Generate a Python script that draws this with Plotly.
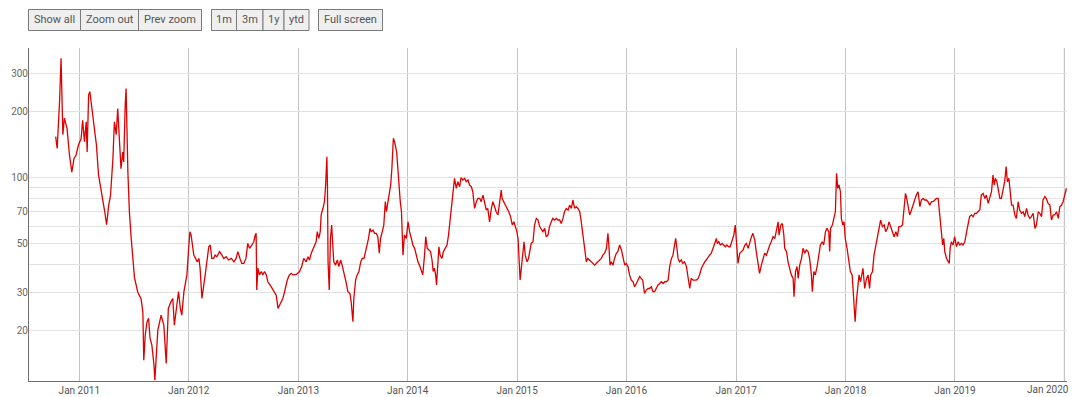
import plotly.graph_objects as go

# ---------------- data ----------------
dates = [
    "2010-10-14","2010-10-19","2010-10-27","2010-11-01","2010-11-07","2010-11-12","2010-11-21","2010-11-29",
    "2010-12-07","2010-12-14","2010-12-21","2010-12-29","2011-01-07","2011-01-12","2011-01-18","2011-01-24",
    "2011-01-27","2011-02-01","2011-02-05","2011-02-11","2011-02-20","2011-02-27","2011-03-06","2011-03-12",
    "2011-03-20","2011-03-26","2011-04-02","2011-04-09","2011-04-15","2011-04-23","2011-04-28","2011-05-04",
    "2011-05-09","2011-05-15","2011-05-20","2011-05-26","2011-05-29","2011-06-03","2011-06-06","2011-06-12",
    "2011-06-17","2011-06-23","2011-06-28","2011-07-04","2011-07-15","2011-07-26","2011-08-01","2011-08-04",
    "2011-08-09","2011-08-15","2011-08-20","2011-08-25","2011-08-31","2011-09-07","2011-09-10","2011-09-14",
    "2011-09-20","2011-10-01","2011-10-10","2011-10-18","2011-10-25","2011-11-03","2011-11-09","2011-11-14",
    "2011-11-20","2011-11-28","2011-12-04","2011-12-09","2011-12-16","2011-12-20","2011-12-26","2011-12-31",
    "2012-01-05","2012-01-09","2012-01-14","2012-01-18","2012-01-24","2012-01-29","2012-02-04","2012-02-08",
    "2012-02-14","2012-02-19","2012-02-25","2012-03-03","2012-03-08","2012-03-13","2012-03-18","2012-03-24",
    "2012-03-29","2012-04-04","2012-04-13","2012-04-21","2012-04-27","2012-05-05","2012-05-13","2012-05-22",
    "2012-05-31","2012-06-07","2012-06-13","2012-06-20","2012-06-26","2012-07-03","2012-07-10","2012-07-16",
    "2012-07-22","2012-07-30","2012-08-05","2012-08-10","2012-08-13","2012-08-15","2012-08-19","2012-08-24",
    "2012-08-30","2012-09-04","2012-09-10","2012-09-16","2012-09-21","2012-10-02","2012-10-11","2012-10-19",
    "2012-10-25","2012-11-02","2012-11-10","2012-11-16","2012-11-25","2012-12-02","2012-12-08","2012-12-14",
    "2012-12-25","2013-01-05","2013-01-12","2013-01-19","2013-01-27","2013-02-02","2013-02-07","2013-02-13",
    "2013-02-18","2013-02-24","2013-03-01","2013-03-05","2013-03-10","2013-03-15","2013-03-18","2013-03-24",
    "2013-03-29","2013-04-02","2013-04-06","2013-04-08","2013-04-10","2013-04-14","2013-04-18","2013-04-22",
    "2013-04-25","2013-04-29","2013-05-05","2013-05-11","2013-05-16","2013-05-22","2013-05-27","2013-06-04",
    "2013-06-10","2013-06-15","2013-06-22","2013-06-26","2013-07-02","2013-07-05","2013-07-11","2013-07-16",
    "2013-07-22","2013-07-28","2013-08-02","2013-08-08","2013-08-13","2013-08-19","2013-08-23","2013-08-28",
    "2013-09-01","2013-09-07","2013-09-12","2013-09-18","2013-09-23","2013-09-28","2013-10-02","2013-10-08",
    "2013-10-13","2013-10-18","2013-10-22","2013-10-27","2013-10-31","2013-11-05","2013-11-09","2013-11-14",
    "2013-11-18","2013-11-21","2013-11-25","2013-11-29","2013-12-03","2013-12-07","2013-12-11","2013-12-16",
    "2013-12-21","2013-12-27","2014-01-02","2014-01-07","2014-01-13","2014-01-18","2014-01-24","2014-01-29",
    "2014-02-04","2014-02-09","2014-02-15","2014-02-20","2014-02-26","2014-03-02","2014-03-07","2014-03-13",
    "2014-03-18","2014-03-23","2014-03-27","2014-03-31","2014-04-04","2014-04-07","2014-04-12","2014-04-15",
    "2014-04-19","2014-04-25","2014-04-30","2014-05-06","2014-05-12","2014-05-17","2014-05-23","2014-05-28",
    "2014-06-03","2014-06-06","2014-06-12","2014-06-17","2014-06-23","2014-06-28","2014-07-04","2014-07-10",
    "2014-07-15","2014-07-21","2014-07-26","2014-08-01","2014-08-06","2014-08-12","2014-08-18","2014-08-23",
    "2014-08-29","2014-09-03","2014-09-09","2014-09-14","2014-09-20","2014-09-25","2014-10-01","2014-10-07",
    "2014-10-12","2014-10-18","2014-10-23","2014-10-29","2014-11-03","2014-11-09","2014-11-12","2014-11-18",
    "2014-11-22","2014-11-28","2014-12-04","2014-12-10","2014-12-16","2014-12-21","2014-12-27","2014-12-31",
    "2015-01-04","2015-01-07","2015-01-11","2015-01-16","2015-01-20","2015-01-24","2015-01-28","2015-02-03",
    "2015-02-08","2015-02-13","2015-02-17","2015-02-23","2015-02-28","2015-03-06","2015-03-12","2015-03-17",
    "2015-03-23","2015-03-28","2015-04-03","2015-04-08","2015-04-14","2015-04-19","2015-04-25","2015-04-30",
    "2015-05-06","2015-05-12","2015-05-17","2015-05-23","2015-05-28","2015-06-03","2015-06-08","2015-06-14",
    "2015-06-20","2015-06-25","2015-07-01","2015-07-06","2015-07-12","2015-07-17","2015-07-23","2015-07-29",
    "2015-08-03","2015-08-09","2015-08-14","2015-08-20","2015-08-25","2015-08-31","2015-09-05","2015-09-11",
    "2015-09-17","2015-09-22","2015-09-28","2015-10-03","2015-10-09","2015-10-14","2015-10-20","2015-10-26",
    "2015-10-31","2015-11-03","2015-11-07","2015-11-11","2015-11-17","2015-11-22","2015-11-28","2015-12-03",
    "2015-12-09","2015-12-15","2015-12-20","2015-12-26","2015-12-31","2016-01-06","2016-01-11","2016-01-17",
    "2016-01-23","2016-01-28","2016-02-03","2016-02-08","2016-02-14","2016-02-19","2016-02-24","2016-03-01",
    "2016-03-07","2016-03-13","2016-03-18","2016-03-24","2016-03-29","2016-04-04","2016-04-09","2016-04-15",
    "2016-04-21","2016-04-26","2016-05-02","2016-05-07","2016-05-13","2016-05-19","2016-05-24","2016-05-30",
    "2016-06-04","2016-06-10","2016-06-13","2016-06-16","2016-06-21","2016-06-26","2016-07-02","2016-07-07",
    "2016-07-13","2016-07-19","2016-07-24","2016-07-30","2016-08-04","2016-08-10","2016-08-15","2016-08-21",
    "2016-08-27","2016-09-01","2016-09-07","2016-09-12","2016-09-18","2016-09-23","2016-09-29","2016-10-04",
    "2016-10-10","2016-10-16","2016-10-21","2016-10-27","2016-10-30","2016-11-04","2016-11-09","2016-11-15",
    "2016-11-20","2016-11-26","2016-12-01","2016-12-07","2016-12-12","2016-12-18","2016-12-24","2016-12-29",
    "2017-01-03","2017-01-07","2017-01-13","2017-01-18","2017-01-24","2017-01-30","2017-02-04","2017-02-10",
    "2017-02-15","2017-02-21","2017-02-26","2017-03-04","2017-03-09","2017-03-15","2017-03-20","2017-03-26",
    "2017-04-01","2017-04-06","2017-04-12","2017-04-17","2017-04-23","2017-04-28","2017-05-04","2017-05-10",
    "2017-05-15","2017-05-21","2017-05-24","2017-05-30","2017-06-04","2017-06-09","2017-06-12","2017-06-18",
    "2017-06-23","2017-06-29","2017-07-04","2017-07-10","2017-07-13","2017-07-18","2017-07-23","2017-07-27",
    "2017-08-01","2017-08-07","2017-08-12","2017-08-18","2017-08-23","2017-08-29","2017-09-03","2017-09-09",
    "2017-09-12","2017-09-17","2017-09-22","2017-09-28","2017-10-03","2017-10-09","2017-10-15","2017-10-20",
    "2017-10-26","2017-10-31","2017-11-06","2017-11-09","2017-11-12","2017-11-18","2017-11-23","2017-11-28",
    "2017-12-02","2017-12-06","2017-12-10","2017-12-15","2017-12-18","2017-12-23","2017-12-27","2017-12-31",
    "2018-01-06","2018-01-12","2018-01-17","2018-01-23","2018-01-28","2018-02-02","2018-02-06","2018-02-12",
    "2018-02-15","2018-02-20","2018-02-24","2018-02-28","2018-03-06","2018-03-12","2018-03-17","2018-03-22",
    "2018-03-26","2018-04-01","2018-04-06","2018-04-12","2018-04-17","2018-04-23","2018-04-28","2018-05-04",
    "2018-05-10","2018-05-15","2018-05-21","2018-05-26","2018-06-01","2018-06-06","2018-06-12","2018-06-18",
    "2018-06-23","2018-06-28","2018-07-04","2018-07-10","2018-07-14","2018-07-20","2018-07-24","2018-07-29",
    "2018-08-03","2018-08-09","2018-08-14","2018-08-20","2018-08-25","2018-08-31","2018-09-06","2018-09-11",
    "2018-09-17","2018-09-22","2018-09-28","2018-10-03","2018-10-09","2018-10-15","2018-10-20","2018-10-26",
    "2018-10-31","2018-11-06","2018-11-11","2018-11-17","2018-11-21","2018-11-25","2018-11-28","2018-12-04",
    "2018-12-09","2018-12-13","2018-12-16","2018-12-20","2018-12-26","2018-12-31","2019-01-06","2019-01-12",
    "2019-01-17","2019-01-23","2019-01-28","2019-02-03","2019-02-08","2019-02-14","2019-02-19","2019-02-25",
    "2019-03-03","2019-03-08","2019-03-14","2019-03-19","2019-03-25","2019-03-30","2019-04-05","2019-04-11",
    "2019-04-16","2019-04-22","2019-04-27","2019-05-03","2019-05-08","2019-05-12","2019-05-16","2019-05-21",
    "2019-05-25","2019-05-31","2019-06-05","2019-06-11","2019-06-16","2019-06-21","2019-06-25","2019-06-30",
    "2019-07-04","2019-07-09","2019-07-14","2019-07-20","2019-07-25","2019-07-31","2019-08-05","2019-08-11",
    "2019-08-17","2019-08-22","2019-08-28","2019-09-02","2019-09-08","2019-09-13","2019-09-19","2019-09-25",
    "2019-09-30","2019-10-06","2019-10-11","2019-10-17","2019-10-22","2019-10-28","2019-11-02","2019-11-08",
    "2019-11-14","2019-11-19","2019-11-25","2019-11-30","2019-12-06","2019-12-12","2019-12-17","2019-12-23",
    "2019-12-28","2020-01-03","2020-01-08",
]

values = [
    154, 136, 222, 351, 157, 187, 168, 127,
    106, 122, 127, 141, 151, 183, 146, 180,
    131, 239, 247, 214, 165, 141, 103, 93,
    80.5, 71, 61, 75, 83, 122, 180, 157,
    207, 151, 110, 131, 118, 214, 255, 106,
    70, 53, 43, 35, 30, 28, 24.4, 14.7,
    19.2, 22, 22.8, 18.5, 17.2, 14, 11.9, 15.5,
    20.2, 23.6, 21.2, 14.2, 25.3, 27.2, 28.1, 21.2,
    25.3, 30.2, 25.3, 23.6, 30.2, 32.4, 36.0, 46.0,
    56.7, 54.7, 49.3, 44.3, 42.8, 41.3, 42.8, 38.6,
    28.1, 32.4, 36.0, 42.8, 48.4, 49.3, 42.8, 42.8,
    44.3, 43.6, 46.0, 44.3, 42.8, 43.6, 42.1, 42.8,
    41.3, 42.8, 46.0, 42.8, 40.6, 40.6, 42.8, 50.1,
    47.6, 49.3, 51.0, 54.7, 55.7, 30.7, 38.6, 36.0,
    37.3, 36.0, 37.3, 36.0, 33.5, 31.8, 30.2, 29.1,
    25.3, 26.7, 28.1, 30.2, 34.1, 36.0, 36.6, 36.0,
    36.2, 37.3, 39.3, 42.8, 41.3, 43.6, 42.1, 45.2,
    46.8, 48.4, 51.0, 56.7, 52.8, 56.7, 67.6, 72.5,
    77.7, 92.6, 124.7, 92.6, 41.3, 30.7, 52.8, 60.8,
    49.3, 41.3, 39.9, 42.1, 39.3, 42.1, 39.9, 36.0,
    32.9, 30.2, 29.6, 27.2, 22.0, 28.1, 34.1, 36.0,
    37.3, 41.3, 42.8, 42.8, 46.0, 49.3, 52.8, 58.7,
    56.7, 57.7, 55.7, 55.7, 53.8, 45.2, 52.8, 56.7,
    60.8, 77.7, 69.9, 77.7, 83.3, 92.6, 110.3, 151.2,
    146, 141, 131, 110.3, 89.4, 77.7, 69.9, 44.3,
    54.7, 52.8, 62.9, 56.7, 52.8, 49.3, 47.6, 44.3,
    41.3, 39.9, 37.3, 36.0, 44.3, 53.8, 47.6, 46.8,
    46.0, 42.1, 37.3, 38.6, 36.0, 32.4, 39.9, 48.4,
    44.3, 42.8, 46.0, 47.6, 49.3, 54.7, 65.2, 80.4,
    92.6, 99.3, 89.4, 95.9, 91.0, 100, 97.6, 99.3,
    95.9, 97.6, 92.6, 91.0, 86.3, 72.4, 77.7, 80.4,
    80.4, 77.7, 83.3, 77.7, 71.2, 72.4, 62.9, 72.4,
    77.7, 73.7, 69.9, 67.6, 75.0, 87.8, 80.4, 77.7,
    75.0, 72.4, 69.9, 66.4, 60.8, 62.9, 59.8, 56.7,
    52.8, 44.3, 34.1, 39.9, 46.0, 51.0, 44.3, 41.3,
    42.8, 47.6, 50.1, 51.0, 60.8, 65.2, 64.1, 59.8,
    57.7, 56.7, 58.7, 53.8, 54.7, 59.8, 62.9, 65.2,
    64.1, 65.2, 64.1, 64.1, 61.8, 65.2, 69.9, 72.4,
    71.2, 75.0, 72.4, 79.1, 72.4, 73.7, 72.4, 69.9,
    62.9, 54.7, 46.0, 41.3, 42.8, 42.1, 41.3, 40.6,
    39.9, 40.6, 41.3, 42.1, 42.8, 44.3, 45.2, 47.6,
    55.7, 49.3, 39.9, 41.3, 39.9, 42.8, 45.2, 46.0,
    49.3, 46.8, 42.8, 39.9, 40.6, 39.3, 36.0, 34.1,
    33.5, 31.8, 32.9, 34.1, 35.4, 34.7, 34.1, 29.6,
    30.7, 31.2, 31.2, 31.8, 30.2, 30.2, 31.2, 32.4,
    32.9, 33.5, 32.9, 33.5, 33.5, 34.1, 39.3, 42.8,
    44.3, 49.3, 52.8, 49.3, 42.8, 41.3, 42.1, 40.6,
    41.3, 39.3, 36.0, 31.2, 34.7, 34.1, 34.1, 34.1,
    34.7, 36.0, 38.6, 39.9, 41.3, 42.1, 43.6, 44.3,
    45.2, 47.6, 49.3, 52.8, 50.1, 51.0, 49.3, 50.1,
    49.3, 48.4, 49.3, 48.4, 48.4, 51.9, 54.7, 60.8,
    46.8, 40.6, 45.2, 46.0, 46.8, 49.3, 50.1, 47.6,
    51.0, 53.8, 55.7, 51.9, 46.0, 39.9, 36.6, 39.9,
    42.8, 45.2, 44.3, 46.8, 49.3, 51.0, 53.8, 52.8,
    57.7, 62.9, 54.7, 60.8, 61.8, 54.7, 47.6, 46.0,
    41.3, 38.6, 36.0, 34.7, 28.6, 37.3, 39.3, 34.7,
    39.9, 42.8, 47.6, 45.2, 46.8, 46.0, 42.8, 36.0,
    30.2, 37.3, 36.0, 39.3, 42.8, 49.3, 51.0, 49.3,
    56.7, 58.7, 56.7, 46.0, 58.7, 60.8, 65.2, 69.9,
    104.7, 89.4, 92.6, 86.3, 65.2, 60.8, 62.9, 52.8,
    47.6, 41.3, 37.3, 36.0, 28.1, 22.0, 27.2, 32.4,
    36.0, 33.5, 36.0, 38.6, 31.2, 34.7, 36.0, 31.2,
    36.0, 37.3, 44.3, 49.3, 54.7, 59.8, 64.1, 59.8,
    60.8, 56.7, 58.7, 62.9, 59.8, 56.7, 53.8, 56.7,
    53.8, 59.8, 59.8, 60.8, 69.9, 84.8, 80.4, 75.0,
    67.6, 71.2, 75.0, 80.4, 83.3, 86.3, 73.7, 79.1,
    80.4, 79.1, 79.1, 77.7, 75.0, 77.7, 77.7, 79.1,
    80.4, 80.4, 67.6, 54.7, 49.3, 52.8, 46.0, 42.8,
    41.3, 40.6, 47.6, 51.0, 49.3, 53.8, 48.4, 51.0,
    49.3, 50.1, 49.3, 51.0, 55.7, 62.9, 66.4, 67.6,
    66.4, 68.8, 68.8, 69.9, 71.2, 83.3, 84.8, 80.4,
    83.3, 76.3, 80.4, 86.3, 102.8, 92.6, 99.3, 95.9,
    89.4, 80.4, 80.4, 89.4, 95.9, 112.3, 95.9, 99.3,
    89.4, 75.0, 75.0, 67.6, 65.2, 77.7, 71.2, 68.8,
    69.9, 66.4, 72.4, 67.6, 65.2, 66.4, 68.8, 58.7,
    60.8, 69.9, 68.8, 66.4, 79.1, 81.9, 80.4, 76.3,
    75.0, 64.1, 67.6, 67.6, 69.9, 65.2, 73.7, 75.0,
    77.7, 83.3, 89.4,
]

y_tick_values = [20, 30, 40, 50, 60, 70, 80, 90, 100, 200, 300]
y_tick_labels = ["20", "30", "", "50", "", "70", "", "", "100", "200", "300"]

last_year_tick = "2020-01-01"
last_year_label = "Jan 2020"

button_labels = ["Show all", "Zoom out", "Prev zoom", "1m", "3m", "1y", "ytd", "Full screen"]

# ---------------- figure ----------------
W, H = 1080, 397
ML, MR, MT, MB = 29, 13, 48, 16
PW, PH = W - ML - MR, H - MT - MB

def px_x(px):
    return (px - ML) / PW

def px_y(py):
    return (H - MB - py) / PH

FONT = "Roboto, 'Open Sans', Arial, sans-serif"
GRID_X = "#c4c4c4"

fig = go.Figure()
fig.add_trace(go.Scatter(
    x=dates, y=values, mode="lines",
    line=dict(color="rgb(222,0,0)", width=1.3),
    hoverinfo="skip", showlegend=False,
))

# toolbar buttons (decoration)
btn_edges = [(28.5, 80.5), (80.5, 138.5), (138.5, 201.5),
             (211.5, 236.5), (236.5, 263), (263, 284), (284, 309),
             (318.5, 382.5)]
shapes = []
annotations = []
for (x0, x1), lab in zip(btn_edges, button_labels):
    shapes.append(dict(type="rect", xref="paper", yref="paper",
                       x0=px_x(x0), x1=px_x(x1), y0=px_y(30.5), y1=px_y(9.5),
                       line=dict(color="#7a7a7a", width=1), fillcolor="#efefef",
                       layer="above"))
    annotations.append(dict(xref="paper", yref="paper",
                            x=px_x((x0 + x1) / 2), y=px_y(20),
                            text=lab, showarrow=False,
                            xanchor="center", yanchor="middle",
                            font=dict(family=FONT, size=11, color="#555555")))

# last year gridline + label (plotly hides the label because it would overflow the page)
shapes.append(dict(type="line", xref="x", yref="paper",
                   x0=last_year_tick, x1=last_year_tick, y0=0, y1=1,
                   line=dict(color=GRID_X, width=1), layer="below"))
annotations.append(dict(xref="x", yref="paper", x=last_year_tick, y=0,
                        xanchor="right", yanchor="top", xshift=7, yshift=-1,
                        text=last_year_label, showarrow=False,
                        font=dict(family=FONT, size=10, color="#555555")))

fig.update_layout(
    template="none",
    width=W, height=H,
    margin=dict(l=ML, r=MR, t=MT, b=MB, pad=0),
    paper_bgcolor="white", plot_bgcolor="white",
    font=dict(family=FONT, size=10, color="#666666"),
    shapes=shapes, annotations=annotations,
    hovermode=False,
    xaxis=dict(
        type="date",
        range=["2010-07-17", "2020-01-10"],
        tick0="2011-01-01", dtick="M12", tickformat="%b %Y",
        showgrid=True, gridcolor=GRID_X, gridwidth=1,
        showline=True, linecolor="#6f6f6f", linewidth=1,
        ticks="", zeroline=False, automargin=False,
        tickfont=dict(family=FONT, size=10, color="#555555"),
        fixedrange=True,
    ),
    yaxis=dict(
        type="log",
        range=[1.072, 2.592],
        tickmode="array", tickvals=y_tick_values, ticktext=y_tick_labels,
        showgrid=True, gridcolor="#e2e2e2", gridwidth=1,
        showline=True, linecolor="#6f6f6f", linewidth=1,
        ticks="", zeroline=False, automargin=False,
        ticklabelstandoff=-2,
        tickfont=dict(family=FONT, size=10, color="#666666"),
        fixedrange=True,
    ),
)

fig.write_html(
    "out.html",
    config={"displayModeBar": False},
    post_script="document.body.style.margin='0px';document.body.style.overflow='hidden';",
)
